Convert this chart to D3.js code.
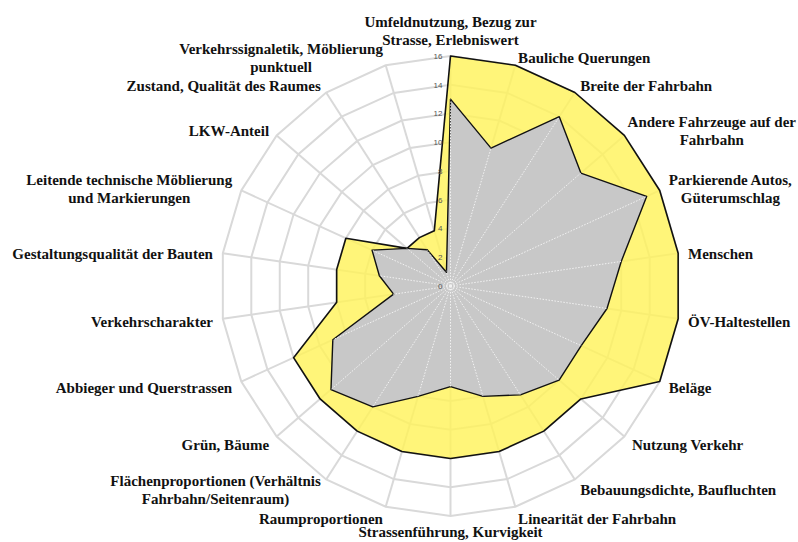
<!DOCTYPE html>
<html>
<head>
<meta charset="utf-8">
<script src="https://cdn.jsdelivr.net/npm/d3@7"></script>
<style>
  body { margin: 0; background: #fff; }
</style>
</head>
<body>
<svg id="chart" width="798" height="542"></svg>
<script>
// Axis labels, clockwise from the top (one entry per line)
const categories = [
  ["Umfeldnutzung, Bezug zur", "Strasse, Erlebniswert"],
  ["Bauliche Querungen"],
  ["Breite der Fahrbahn"],
  ["Andere Fahrzeuge auf der", "Fahrbahn"],
  ["Parkierende Autos,", "Güterumschlag"],
  ["Menschen"],
  ["ÖV-Haltestellen"],
  ["Beläge"],
  ["Nutzung Verkehr"],
  ["Bebauungsdichte, Baufluchten"],
  ["Linearität der Fahrbahn"],
  ["Strassenführung, Kurvigkeit"],
  ["Raumproportionen"],
  ["Flächenproportionen (Verhältnis", "Fahrbahn/Seitenraum)"],
  ["Grün, Bäume"],
  ["Abbieger und Querstrassen"],
  ["Verkehrscharakter"],
  ["Gestaltungsqualität der Bauten"],
  ["Leitende technische Möblierung", "und Markierungen"],
  ["LKW-Anteil"],
  ["Zustand, Qualität des Raumes"],
  ["Verkehrssignaletik, Möblierung", "punktuell"]
];

// Outer (yellow) series
const outerValues = [16, 16, 16, 16, 16, 16, 16, 16, 12, 12, 12, 12, 12, 12, 12, 12, 8, 8, 8, 4, 4, 4];

// Inner (grey) series
const innerValues = [13, 10, 14, 12, 15, 12, 11, 10, 10, 9, 8, 7, 8, 10, 11, 9, 4, 5, 6, 4, 3, 1];

const ticks = [0, 2, 4, 6, 8, 10, 12, 14, 16];

const WIDTH = 798;
const CX = 450.5;
const CY = 286;
const RADIUS = 230;
const LABEL_PAD = 10;
const LINE_HEIGHT = 18;

const svg = d3.select("#chart");
const n = categories.length;

const r = d3.scaleLinear().domain([0, 16]).range([0, RADIUS]);
const angle = d3.scaleLinear().domain([0, n]).range([0, 2 * Math.PI]);

const radial = d3
  .lineRadial()
  .angle((d, i) => angle(i))
  .radius((d) => r(d))
  .curve(d3.curveLinearClosed);

const g = svg.append("g").attr("transform", `translate(${CX},${CY})`);

// grid rings (polygons) and spokes
const grid = g.append("g")
  .attr("fill", "none")
  .attr("stroke", "#d9d9d9")
  .attr("stroke-width", 2);

grid.selectAll("path.ring")
  .data(ticks.filter((t) => t > 0))
  .join("path")
  .attr("class", "ring")
  .attr("d", (t) => radial(categories.map(() => t)));

grid.selectAll("line.spoke")
  .data(categories)
  .join("line")
  .attr("class", "spoke")
  .attr("x1", 0)
  .attr("y1", 0)
  .attr("x2", (d, i) => r(16) * Math.sin(angle(i)))
  .attr("y2", (d, i) => -r(16) * Math.cos(angle(i)));

// outer series
g.append("path")
  .datum(outerValues)
  .attr("d", radial)
  .attr("fill", "#fff35c")
  .attr("fill-opacity", 0.82)
  .attr("stroke", "#111")
  .attr("stroke-width", 1.6)
  .attr("stroke-linejoin", "round");

// inner series
g.append("path")
  .datum(innerValues)
  .attr("d", radial)
  .attr("fill", "#c8c8c8")
  .attr("stroke", "#111")
  .attr("stroke-width", 1.4)
  .attr("stroke-linejoin", "round");

// dotted spokes showing through the grey area
g.append("clipPath")
  .attr("id", "innerClip")
  .append("path")
  .attr("d", radial(innerValues));

g.append("g")
  .attr("clip-path", "url(#innerClip)")
  .attr("stroke", "#f2f2f2")
  .attr("stroke-width", 1)
  .attr("stroke-dasharray", "1.5,1.5")
  .selectAll("line")
  .data(categories)
  .join("line")
  .attr("x1", 0)
  .attr("y1", 0)
  .attr("x2", (d, i) => r(16) * Math.sin(angle(i)))
  .attr("y2", (d, i) => -r(16) * Math.cos(angle(i)));

// tick labels along the top axis
g.append("g")
  .selectAll("text")
  .data(ticks)
  .join("text")
  .attr("x", -8)
  .attr("y", (t) => -r(t))
  .attr("dy", "0.35em")
  .attr("text-anchor", "end")
  .attr("font-family", "Arial, 'Liberation Sans', sans-serif")
  .attr("font-size", 8)
  .attr("fill", "#555")
  .text((t) => t);

// category labels
const labels = g.append("g")
  .attr("font-family", "'Times New Roman', 'Liberation Serif', serif")
  .attr("font-weight", "bold")
  .attr("font-size", 15)
  .attr("fill", "#111");

categories.forEach((lines, i) => {
  const a = angle(i);
  const s = Math.sin(a);
  const c = Math.cos(a);
  const ax = (RADIUS + LABEL_PAD) * s;
  const ay = -(RADIUS + LABEL_PAD) * c;

  const text = labels.append("text").attr("text-anchor", "middle");
  lines.forEach((line, k) => {
    text.append("tspan")
      .attr("x", 0)
      .attr("y", k * LINE_HEIGHT)
      .attr("dy", "0.35em")
      .text(line);
  });

  const width = d3.max(text.selectAll("tspan").nodes(), (t) => t.getComputedTextLength());
  const blockH = (lines.length - 1) * LINE_HEIGHT;

  let x = ax;
  if (s > 0.01) x = ax + width / 2;
  else if (s < -0.01) x = ax - width / 2;
  // keep the block inside the picture
  x = Math.min(x, WIDTH - CX - 2 - width / 2);
  x = Math.max(x, -CX + 2 + width / 2);

  let yc = ay + 2;
  if (c > 0.99) yc = ay - 6 - blockH / 2;
  else if (c < -0.99) yc = ay + 6;

  text.attr("transform", `translate(${x},${yc - blockH / 2})`);
});
</script>
</body>
</html>
